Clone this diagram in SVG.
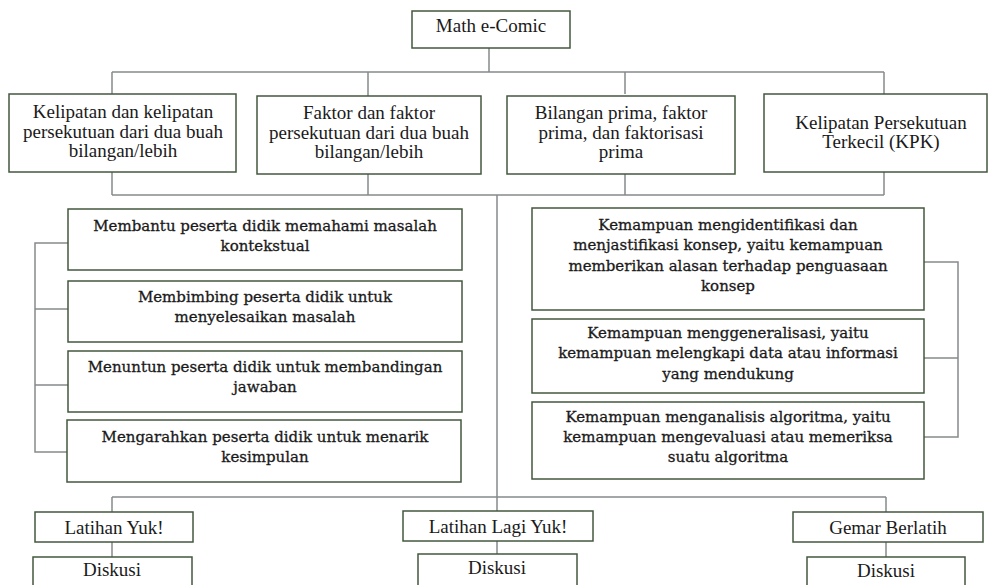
<svg xmlns="http://www.w3.org/2000/svg" width="988" height="585" viewBox="0 0 988 585">
<style>
.box{fill:#fff;stroke:#44573f;stroke-width:1.5}
.ln{fill:none;stroke:#858a8a;stroke-width:1.5}
.t{font-family:"Liberation Serif","Times New Roman",serif;font-size:19px;fill:#1a1a1a;text-anchor:middle}
.m{font-family:"DejaVu Serif","Liberation Serif",serif;font-size:15px;fill:#1a1a1a;stroke:#1a1a1a;stroke-width:0.3;text-anchor:middle}
</style>
<rect width="988" height="585" fill="#fff"/>
<g id="connectors">
<path class="ln" d="M489 48V72M112 72H884M112 72V94M368 72V96M625 72V94M884 72V94"/>
<path class="ln" d="M112 172V195M368 174V195M625 174V195M884 172V195M112 195H884"/>
<path class="ln" d="M497 195V512M112 497H886M112 497V512M886 497V512"/>
<path class="ln" d="M112 542V557M497 541V554M886 542V557"/>
<path class="ln" d="M68 243H35V452H68M35 309H68M35 385H68"/>
<path class="ln" d="M924 262H958V437H924M924 358H958"/>
</g>
<g id="math-ecomic"><rect class="box" x="412" y="11" width="158" height="37"/><text class="t" x="491" y="32">Math e-Comic</text></g>
<g id="kelipatan"><rect class="box" x="9" y="94" width="227" height="78"/><text class="t" x="123" y="118">Kelipatan dan kelipatan</text><text class="t" x="123" y="138">persekutuan dari dua buah</text><text class="t" x="123" y="157">bilangan/lebih</text></g>
<g id="faktor"><rect class="box" x="257" y="96" width="224" height="78"/><text class="t" x="369" y="119">Faktor dan faktor</text><text class="t" x="369" y="139">persekutuan dari dua buah</text><text class="t" x="369" y="158">bilangan/lebih</text></g>
<g id="bilangan-prima"><rect class="box" x="507" y="96" width="228" height="78"/><text class="t" x="621" y="119">Bilangan prima, faktor</text><text class="t" x="621" y="139">prima, dan faktorisasi</text><text class="t" x="621" y="158">prima</text></g>
<g id="kpk"><rect class="box" x="764" y="94" width="223" height="78"/><text class="t" x="881" y="129">Kelipatan Persekutuan</text><text class="t" x="881" y="148">Terkecil (KPK)</text></g>
<g id="membantu"><rect class="box" x="68" y="209" width="394" height="61"/><text class="m" x="265" y="231">Membantu peserta didik memahami masalah</text><text class="m" x="265" y="251">kontekstual</text></g>
<g id="membimbing"><rect class="box" x="68" y="281" width="394" height="61"/><text class="m" x="265" y="302">Membimbing peserta didik untuk</text><text class="m" x="265" y="322">menyelesaikan masalah</text></g>
<g id="menuntun"><rect class="box" x="68" y="351" width="394" height="61"/><text class="m" x="265" y="372">Menuntun peserta didik untuk membandingan</text><text class="m" x="265" y="392">jawaban</text></g>
<g id="mengarahkan"><rect class="box" x="67" y="420" width="394" height="62"/><text class="m" x="265" y="442">Mengarahkan peserta didik untuk menarik</text><text class="m" x="265" y="462">kesimpulan</text></g>
<g id="identifikasi"><rect class="box" x="532" y="208" width="392" height="102"/><text class="m" x="728" y="230">Kemampuan mengidentifikasi dan</text><text class="m" x="728" y="250">menjastifikasi konsep, yaitu kemampuan</text><text class="m" x="728" y="271">memberikan alasan terhadap penguasaan</text><text class="m" x="728" y="291">konsep</text></g>
<g id="generalisasi"><rect class="box" x="532" y="319" width="392" height="74"/><text class="m" x="728" y="338">Kemampuan menggeneralisasi, yaitu</text><text class="m" x="728" y="358">kemampuan melengkapi data atau informasi</text><text class="m" x="728" y="379">yang mendukung</text></g>
<g id="algoritma"><rect class="box" x="532" y="402" width="392" height="77"/><text class="m" x="728" y="422">Kemampuan menganalisis algoritma, yaitu</text><text class="m" x="728" y="442">kemampuan mengevaluasi atau memeriksa</text><text class="m" x="728" y="462">suatu algoritma</text></g>
<g id="latihan-yuk"><rect class="box" x="35" y="512" width="158" height="30"/><text class="t" x="114" y="534">Latihan Yuk!</text></g>
<g id="diskusi-1"><rect class="box" x="33" y="557" width="159" height="40"/><text class="t" x="112" y="576">Diskusi</text></g>
<g id="latihan-lagi"><rect class="box" x="403" y="511" width="190" height="30"/><text class="t" x="498" y="533">Latihan Lagi Yuk!</text></g>
<g id="diskusi-2"><rect class="box" x="418" y="554" width="159" height="40"/><text class="t" x="497" y="574">Diskusi</text></g>
<g id="gemar-berlatih"><rect class="box" x="793" y="512" width="190" height="30"/><text class="t" x="888" y="534">Gemar Berlatih</text></g>
<g id="diskusi-3"><rect class="box" x="807" y="557" width="158" height="40"/><text class="t" x="886" y="577">Diskusi</text></g>
</svg>
